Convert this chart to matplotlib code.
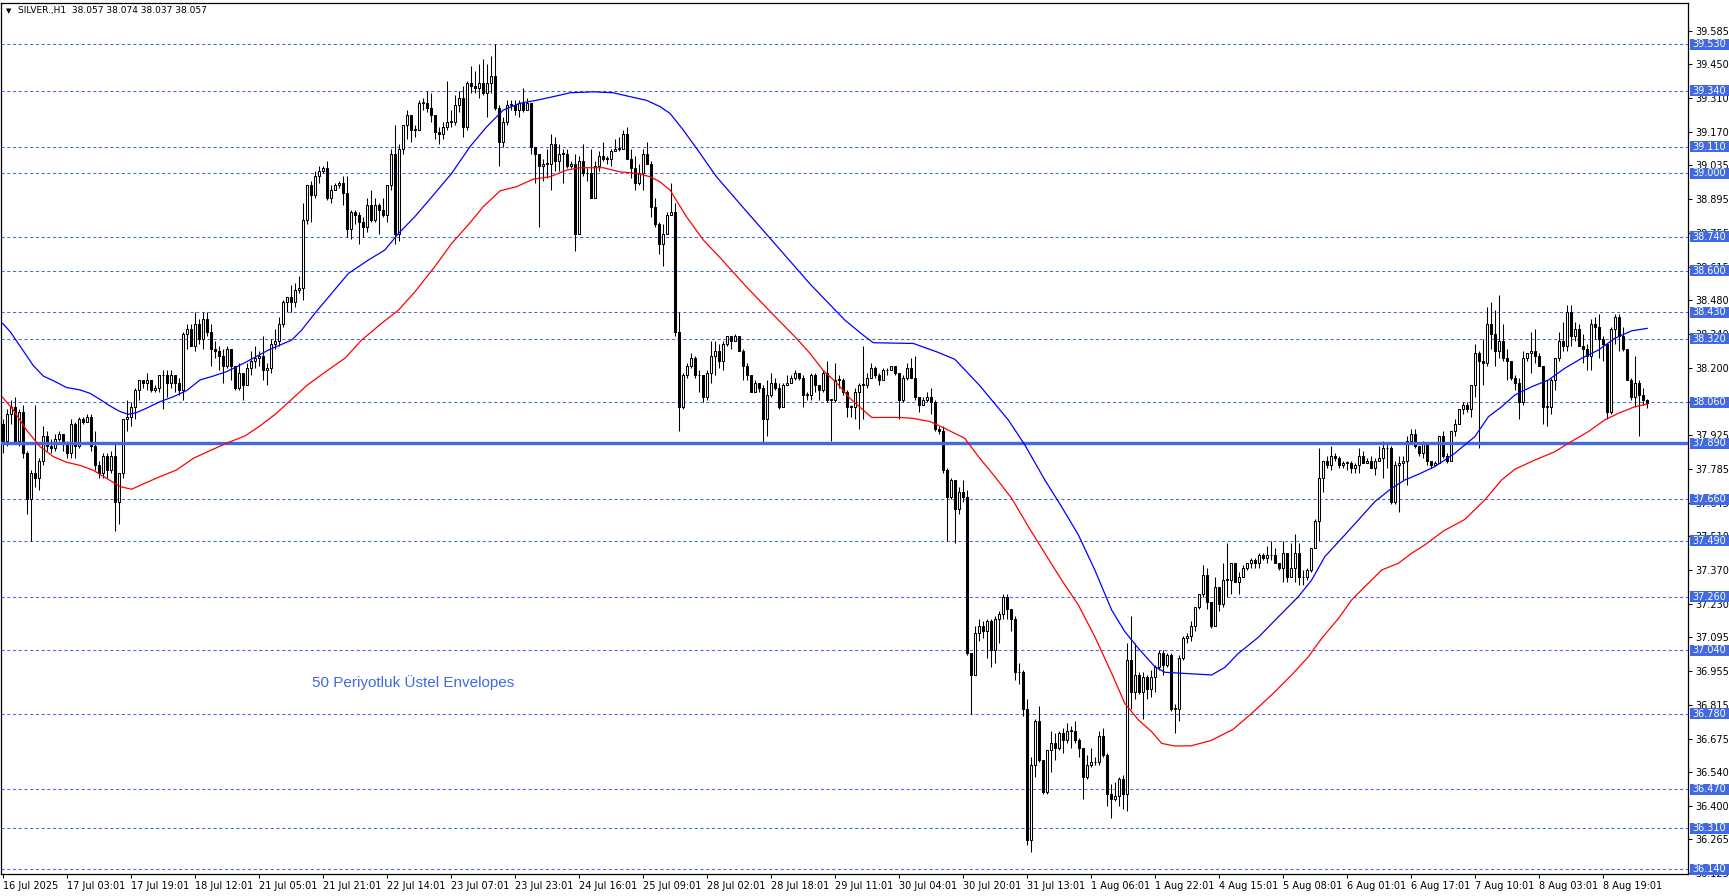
import numpy as np
import matplotlib
matplotlib.use("Agg")
import matplotlib.pyplot as plt
from matplotlib.patches import Rectangle
from matplotlib.transforms import blended_transform_factory

# SILVER H1 candles, 16 Jul - 8 Aug 2025
first_open = 37.97

closes = [
    # 16-18 Jul
    37.90, 38.01, 38.04, 37.90, 38.02, 37.85, 37.66, 37.77, 37.75, 37.82,
    37.92, 37.88, 37.87, 37.91, 37.93, 37.89, 37.85, 37.97, 37.88, 37.99,
    37.98, 38.00, 37.88, 37.80, 37.77, 37.84, 37.78, 37.84, 37.65, 37.77,
    37.99, 38.00, 38.04, 38.11, 38.15, 38.14, 38.15, 38.11, 38.12, 38.17,
    38.17, 38.14, 38.17, 38.14, 38.11, 38.34, 38.36, 38.29, 38.38, 38.32,
    38.40, 38.35, 38.28, 38.27, 38.25, 38.21, 38.28, 38.21, 38.12, 38.18,
    38.13,
    # 21-23 Jul
    38.20, 38.23, 38.24, 38.25, 38.19, 38.20, 38.30, 38.31, 38.38, 38.47,
    38.49, 38.47, 38.52, 38.53, 38.81, 38.95, 38.91, 38.99, 39.01, 39.02,
    38.90, 38.93, 38.95, 38.96, 38.92, 38.77, 38.84, 38.83, 38.80, 38.78,
    38.87, 38.81, 38.87, 38.85, 38.83, 38.95, 39.08, 38.75, 39.10, 39.20,
    39.24, 39.18, 39.18, 39.29, 39.29, 39.27, 39.24, 39.17, 39.16, 39.19,
    39.21, 39.21, 39.28, 39.31, 39.19, 39.37,
    # 23-28 Jul
    39.36, 39.35, 39.37, 39.33, 39.37, 39.40, 39.27, 39.13, 39.21, 39.28,
    39.28, 39.26, 39.29, 39.26, 39.29, 39.11, 39.08, 39.03, 39.04, 39.04,
    39.12, 39.05, 39.08, 39.08, 39.03, 39.04, 38.75, 39.05, 39.00, 39.00,
    38.90, 39.03, 39.07, 39.06, 39.06, 39.09, 39.10, 39.10, 39.16, 39.06,
    39.02, 38.96, 39.00, 39.08, 39.04, 38.86, 38.79, 38.71, 38.75, 38.83,
    38.84, 38.35, 38.04, 38.17, 38.21, 38.24, 38.17, 38.17, 38.08, 38.18,
    # 28-30 Jul
    38.25, 38.27, 38.23, 38.30, 38.33, 38.31, 38.33, 38.27, 38.21, 38.17,
    38.10, 38.14, 38.12, 37.99, 38.09, 38.14, 38.12, 38.04, 38.13, 38.14,
    38.16, 38.18, 38.16, 38.09, 38.09, 38.17, 38.13, 38.11, 38.18, 38.07,
    38.07, 38.15, 38.15, 38.10, 38.04, 38.04, 38.10, 38.13, 38.13, 38.16,
    38.20, 38.17, 38.15, 38.19, 38.19, 38.21, 38.18, 38.07, 38.16, 38.20,
    38.16, 38.08, 38.05, 38.07, 38.08, 38.06, 37.95, 37.94, 37.78,
    # 30 Jul - 1 Aug
    37.67, 37.74, 37.62, 37.69, 37.67, 37.03, 36.94, 37.11, 37.14, 37.12,
    37.16, 37.04, 37.17, 37.19, 37.26, 37.21, 37.17, 36.95, 36.95, 36.80,
    36.26, 36.57, 36.75, 36.59, 36.46, 36.63, 36.66, 36.64, 36.70, 36.67,
    36.71, 36.71, 36.67, 36.64, 36.52, 36.57, 36.58, 36.58, 36.69, 36.61,
    36.45, 36.43, 36.44, 36.51, 36.45, 37.00, 36.87, 36.94, 36.87, 36.93,
    36.88, 36.93, 36.97, 37.03, 36.98, 37.02, 36.80, 36.80,
    # 1-6 Aug
    37.01, 37.09, 37.10, 37.14, 37.22, 37.27, 37.35, 37.24, 37.14, 37.30,
    37.23, 37.33, 37.33, 37.40, 37.32, 37.34, 37.38, 37.40, 37.41, 37.40,
    37.43, 37.42, 37.43, 37.43, 37.40, 37.38, 37.44, 37.34, 37.38, 37.44,
    37.34, 37.34, 37.37, 37.46, 37.57, 37.75, 37.82, 37.80, 37.84, 37.83,
    37.80, 37.81, 37.81, 37.79, 37.80, 37.84, 37.81, 37.82, 37.79, 37.82,
    37.83, 37.87, 37.87, 37.65, 37.80, 37.81, 37.82, 37.90, 37.93, 37.88,
    37.85, 37.89,
    # 6-8 Aug
    37.82, 37.80, 37.81, 37.92, 37.84, 37.82, 37.94, 37.97, 38.03, 38.05,
    38.03, 38.13, 38.26, 38.23, 38.22, 38.38, 38.34, 38.27, 38.31, 38.24,
    38.23, 38.16, 38.14, 38.06, 38.24, 38.26, 38.27, 38.25, 38.21, 38.04,
    38.04, 38.15, 38.24, 38.31, 38.29, 38.43, 38.33, 38.36, 38.29, 38.28,
    38.25, 38.38, 38.37, 38.32, 38.30, 38.02, 38.36, 38.41, 38.33, 38.28,
    38.15, 38.08, 38.14, 38.09, 38.07, 38.057,
]

highs = [
    37.99, 38.03, 38.07, 38.08, 38.03, 38.05, 37.86, 37.78, 38.05, 37.83,
    37.96, 37.94, 37.91, 37.93, 37.94, 37.93, 37.90, 37.99, 37.98, 38.00,
    38.00, 38.01, 38.01, 37.94, 37.82, 37.85, 37.85, 37.86, 37.89, 37.77,
    37.99, 38.07, 38.06, 38.12, 38.15, 38.15, 38.18, 38.15, 38.13, 38.17,
    38.19, 38.19, 38.19, 38.17, 38.16, 38.35, 38.38, 38.38, 38.43, 38.40,
    38.43, 38.43, 38.38, 38.31, 38.29, 38.28, 38.29, 38.28, 38.21, 38.22,
    38.18,
    38.22, 38.27, 38.29, 38.27, 38.33, 38.22, 38.32, 38.36, 38.41, 38.48,
    38.49, 38.54, 38.55, 38.58, 38.88, 38.95, 38.97, 39.01, 39.03, 39.03,
    39.05, 38.95, 38.96, 38.97, 38.99, 38.99, 38.85, 38.85, 38.84, 38.82,
    38.90, 38.93, 38.90, 38.88, 38.90, 38.95, 39.10, 39.20, 39.12, 39.20,
    39.26, 39.24, 39.20, 39.30, 39.31, 39.34, 39.33, 39.24, 39.19, 39.21,
    39.38, 39.26, 39.32, 39.34, 39.36, 39.38,
    39.44, 39.42, 39.45, 39.47, 39.45, 39.48, 39.53, 39.28, 39.23, 39.30,
    39.30, 39.30, 39.30, 39.35, 39.31, 39.29, 39.11, 39.08, 39.06, 39.10,
    39.16, 39.15, 39.12, 39.10, 39.10, 39.05, 39.08, 39.07, 39.12, 39.02,
    39.10, 39.05, 39.09, 39.13, 39.07, 39.10, 39.14, 39.15, 39.18, 39.19,
    39.10, 39.07, 39.04, 39.10, 39.13, 39.05, 38.90, 38.80, 38.79, 38.84,
    38.96, 38.88, 38.43, 38.18, 38.22, 38.26, 38.25, 38.19, 38.17, 38.19,
    38.31, 38.31, 38.30, 38.31, 38.33, 38.33, 38.34, 38.33, 38.28, 38.22,
    38.17, 38.15, 38.14, 38.13, 38.15, 38.18, 38.16, 38.14, 38.14, 38.17,
    38.17, 38.19, 38.18, 38.17, 38.10, 38.18, 38.18, 38.13, 38.19, 38.23,
    38.07, 38.22, 38.17, 38.16, 38.11, 38.05, 38.12, 38.14, 38.29, 38.18,
    38.22, 38.21, 38.18, 38.20, 38.20, 38.21, 38.21, 38.17, 38.17, 38.22,
    38.24, 38.25, 38.08, 38.08, 38.10, 38.12, 38.07, 37.96, 37.96,
    37.79, 37.75, 37.74, 37.71, 37.74, 37.70, 37.03, 37.14, 37.17, 37.16,
    37.17, 37.17, 37.18, 37.20, 37.27, 37.27, 37.21, 37.18, 36.99, 36.96,
    36.84, 36.60, 36.76, 36.81, 36.59, 36.63, 36.71, 36.70, 36.71, 36.72,
    36.74, 36.73, 36.75, 36.68, 36.64, 36.61, 36.64, 36.60, 36.71, 36.72,
    36.62, 36.49, 36.50, 36.52, 36.53, 37.07, 37.18, 37.07, 36.95, 36.95,
    36.94, 36.96, 36.98, 37.04, 37.04, 37.03, 37.03, 36.82,
    37.02, 37.10, 37.11, 37.16, 37.22, 37.27, 37.39, 37.38, 37.24, 37.34,
    37.30, 37.40, 37.48, 37.40, 37.40, 37.36, 37.39, 37.40, 37.42, 37.42,
    37.44, 37.44, 37.47, 37.49, 37.46, 37.40, 37.49, 37.44, 37.48, 37.52,
    37.48, 37.37, 37.38, 37.46, 37.58, 37.87, 37.82, 37.84, 37.88, 37.85,
    37.84, 37.82, 37.82, 37.82, 37.81, 37.87, 37.86, 37.83, 37.84, 37.83,
    37.88, 37.90, 37.89, 37.88, 37.82, 37.84, 37.84, 37.92, 37.95, 37.95,
    37.88, 37.90,
    37.89, 37.82, 37.82, 37.92, 37.94, 37.85, 37.94, 37.99, 38.03, 38.06,
    38.06, 38.13, 38.30, 38.27, 38.32, 38.45, 38.47, 38.44, 38.50, 38.38,
    38.28, 38.23, 38.17, 38.16, 38.27, 38.26, 38.35, 38.36, 38.26, 38.21,
    38.15, 38.16, 38.24, 38.35, 38.39, 38.46, 38.46, 38.39, 38.38, 38.34,
    38.30, 38.40, 38.41, 38.42, 38.33, 38.26, 38.37, 38.42, 38.42, 38.37,
    38.28, 38.16, 38.25, 38.15, 38.12, 38.074,
]

lows = [
    37.85, 37.88, 37.97, 37.89, 37.88, 37.83, 37.60, 37.49, 37.71, 37.70,
    37.80, 37.86, 37.85, 37.86, 37.90, 37.86, 37.83, 37.83, 37.83, 37.87,
    37.97, 37.98, 37.86, 37.78, 37.75, 37.75, 37.75, 37.77, 37.53, 37.56,
    37.75, 37.94, 37.96, 37.99, 38.07, 38.12, 38.11, 38.10, 38.10, 38.10,
    38.03, 38.08, 38.12, 38.10, 38.09, 38.07, 38.28, 38.29, 38.27, 38.30,
    38.28, 38.33, 38.21, 38.24, 38.19, 38.14, 38.20, 38.15, 38.11, 38.11,
    38.07,
    38.14, 38.17, 38.20, 38.21, 38.15, 38.13, 38.18, 38.28, 38.29, 38.37,
    38.43, 38.43, 38.45, 38.51, 38.48, 38.79, 38.80, 38.90, 38.96, 39.00,
    38.89, 38.88, 38.93, 38.94, 38.87, 38.74, 38.73, 38.79, 38.71, 38.74,
    38.76, 38.80, 38.80, 38.75, 38.82, 38.80, 38.93, 38.71, 38.72, 39.08,
    39.14, 39.13, 39.15, 39.18, 39.26, 39.25, 39.21, 39.14, 39.12, 39.14,
    39.18, 39.19, 39.20, 39.25, 39.15, 39.18,
    39.33, 39.33, 39.31, 39.32, 39.23, 39.33, 39.26, 39.03, 39.11, 39.20,
    39.26, 39.24, 39.23, 39.25, 39.26, 39.08, 38.96, 38.78, 38.97, 38.98,
    38.93, 39.01, 39.01, 38.96, 39.02, 39.02, 38.68, 38.75, 38.99, 38.97,
    38.90, 38.90, 39.01, 39.05, 39.04, 39.03, 39.09, 39.09, 39.10, 39.06,
    38.98, 38.93, 38.95, 38.93, 39.04, 38.82, 38.78, 38.67, 38.62, 38.76,
    38.83, 38.33, 37.94, 38.03, 38.16, 38.20, 38.16, 38.10, 38.06, 38.07,
    38.14, 38.17, 38.20, 38.19, 38.29, 38.28, 38.31, 38.27, 38.15, 38.15,
    38.10, 38.10, 38.10, 37.89, 37.92, 38.08, 38.11, 38.03, 38.04, 38.13,
    38.14, 38.15, 38.15, 38.04, 38.07, 38.07, 38.10, 38.07, 38.10, 38.06,
    37.90, 38.06, 38.12, 38.09, 38.00, 38.00, 37.99, 37.95, 37.99, 38.12,
    38.16, 38.16, 38.13, 38.15, 38.17, 38.19, 38.17, 37.99, 38.06, 38.15,
    38.16, 38.07, 38.02, 38.05, 38.06, 38.01, 37.94, 37.93, 37.77,
    37.49, 37.66, 37.48, 37.60, 37.65, 37.02, 36.78, 36.94, 37.08, 37.09,
    37.01, 36.97, 36.99, 37.07, 37.17, 37.17, 37.12, 36.92, 36.90, 36.77,
    36.24, 36.21, 36.52, 36.58, 36.45, 36.45, 36.54, 36.59, 36.63, 36.62,
    36.66, 36.64, 36.66, 36.60, 36.43, 36.51, 36.56, 36.57, 36.57, 36.60,
    36.40, 36.35, 36.42, 36.40, 36.39, 36.38, 36.80, 36.84, 36.86, 36.76,
    36.84, 36.85, 36.87, 36.96, 36.94, 36.97, 36.79, 36.70,
    36.75, 37.00, 37.07, 37.08, 37.12, 37.21, 37.26, 37.21, 37.13, 37.14,
    37.20, 37.22, 37.26, 37.27, 37.32, 37.27, 37.34, 37.37, 37.38, 37.38,
    37.38, 37.41, 37.40, 37.41, 37.40, 37.37, 37.32, 37.32, 37.34, 37.32,
    37.31, 37.31, 37.33, 37.36, 37.46, 37.49, 37.69, 37.79, 37.78, 37.82,
    37.79, 37.79, 37.78, 37.77, 37.77, 37.77, 37.81, 37.81, 37.79, 37.76,
    37.82, 37.75, 37.79, 37.64, 37.64, 37.61, 37.74, 37.72, 37.90, 37.87,
    37.84, 37.83,
    37.80, 37.79, 37.80, 37.81, 37.83, 37.81, 37.82, 37.92, 37.97, 38.01,
    38.02, 38.00, 38.08, 37.87, 38.13, 38.21, 38.28, 38.21, 38.24, 38.23,
    38.15, 38.15, 38.11, 37.99, 38.05, 38.23, 38.18, 38.22, 38.21, 37.97,
    37.96, 38.01, 38.11, 38.23, 38.27, 38.27, 38.29, 38.31, 38.29, 38.22,
    38.19, 38.19, 38.32, 38.24, 38.23, 37.99, 38.01, 38.30, 38.27, 38.27,
    38.15, 38.07, 38.04, 37.92, 38.05, 38.037,
]

# 50-period exponential envelopes, read at points along the lines (bar index, price)
upper_bar = [-0.2, 1.7, 4.2, 7.5, 10, 12.5, 15.8, 19.2, 21.7, 24.2, 26.7, 29.2, 31.3,
             33.3, 35.8, 39.2, 42.5, 45.8, 49.2, 52.5, 55.8, 60.4, 66.3, 72.1, 74.6,
             77.9, 82.1, 86.3, 91.3, 95.4, 98.8, 102.9, 107.9, 112.1, 116.7, 120.8,
             125, 129.2, 133.3, 137.5, 141.7, 147.5, 152.5, 156.7, 160.8, 164.2, 166.7,
             170, 174.2, 178.3, 186, 194, 202, 210.4, 215, 217.5, 227.5, 233.3, 237.9,
             244, 251.3, 255.4, 260.4, 264.6, 268.8, 272.9, 277.1, 280.4, 283.8, 287.9,
             290.4, 302.1, 305.4, 308.8, 313.8, 318.8, 323.8, 327.1, 330.4, 334.6,
             338.8, 342.9, 347.1, 350.4, 354, 357.9, 362.9, 367.9, 371.3, 374.6, 377.9,
             382.1, 386.3, 390.4, 394.6, 398.8, 402.9, 407.1, 411]
upper_val = [38.384, 38.35, 38.29, 38.21, 38.167, 38.148, 38.12, 38.11, 38.096, 38.071,
             38.044, 38.021, 38.01, 38.017, 38.035, 38.062, 38.082, 38.107, 38.151,
             38.167, 38.185, 38.222, 38.274, 38.315, 38.356, 38.425, 38.507, 38.589,
             38.644, 38.685, 38.753, 38.822, 38.918, 39.0, 39.11, 39.19, 39.26, 39.288,
             39.30, 39.315, 39.331, 39.335, 39.331, 39.315, 39.30, 39.274, 39.246,
             39.178, 39.082, 38.986, 38.84, 38.69, 38.54, 38.397, 38.335, 38.304,
             38.301, 38.267, 38.236, 38.13, 37.986, 37.884, 37.74, 37.63, 37.514,
             37.37, 37.206, 37.117, 37.048, 36.973, 36.950, 36.939, 36.97, 37.028,
             37.094, 37.178, 37.261, 37.329, 37.425, 37.50, 37.576, 37.651, 37.706,
             37.74, 37.765, 37.795, 37.85, 37.918, 38.0, 38.041, 38.089, 38.123,
             38.151, 38.199, 38.24, 38.274, 38.322, 38.353, 38.363]
lower_bar = [-0.2, 2.5, 5.8, 9.2, 12.5, 15.8, 19.2, 22.5, 25.8, 29.2, 32.1, 35, 39.2,
             43.3, 47.5, 50.8, 55.8, 60.4, 64, 68, 72, 76, 81.2, 85.4, 89.6, 94.6, 98.8,
             102.9, 107.9, 112.1, 116.7, 120, 124.2, 128.3, 132.5, 136.7, 140.8, 144.2,
             150, 154.2, 158.3, 161.7, 164.2, 166.7, 170.8, 175, 179, 186, 193.8, 198.3,
             201.7, 205, 208.3, 211.7, 215, 217.1, 224.2, 227.5, 231.7, 235.4, 240.4,
             243.8, 247.9, 252.1, 256.3, 260.4, 264.6, 268.8, 272.9, 277.1, 280.4,
             283.8, 287.1, 289.6, 292.9, 297, 302, 307.5, 312.1, 317.1, 322.1, 326.3,
             329.6, 333.8, 337.1, 340.4, 344.6, 348.8, 352.1, 355.4, 360, 365.4, 370.4,
             374.6, 377.9, 382.9, 387.9, 391.3, 396.3, 400.4, 403.8, 407.9, 411]
lower_val = [38.08, 38.028, 37.945, 37.877, 37.836, 37.813, 37.80, 37.78, 37.747, 37.713,
             37.702, 37.724, 37.754, 37.781, 37.829, 37.854, 37.891, 37.921, 37.96, 38.01,
             38.07, 38.13, 38.192, 38.24, 38.315, 38.384, 38.438, 38.513, 38.617, 38.712,
             38.797, 38.863, 38.928, 38.945, 38.976, 38.986, 39.013, 39.023, 39.023,
             39.006, 39.0, 38.986, 38.965, 38.931, 38.822, 38.726, 38.657, 38.53, 38.397,
             38.322, 38.26, 38.19, 38.14, 38.075, 38.027, 37.997, 37.997, 37.993, 37.98,
             37.952, 37.911, 37.836, 37.754, 37.665, 37.548, 37.439, 37.329, 37.226,
             37.096, 36.946, 36.822, 36.754, 36.706, 36.658, 36.647, 36.648, 36.67,
             36.716, 36.781, 36.857, 36.939, 37.014, 37.089, 37.171, 37.247, 37.302,
             37.37, 37.398, 37.439, 37.473, 37.53, 37.578, 37.658, 37.74, 37.784,
             37.822, 37.856, 37.891, 37.939, 37.987, 38.014, 38.041, 38.052]

levels = [39.530, 39.340, 39.110, 39.000, 38.740, 38.600, 38.430, 38.320, 38.060,
          37.660, 37.490, 37.260, 37.040, 36.780, 36.470, 36.310, 36.140]
support = 37.890

price_ticks = [39.585, 39.450, 39.310, 39.170, 39.035, 38.895, 38.755, 38.615, 38.480,
               38.340, 38.200, 38.060, 37.925, 37.785, 37.645, 37.510, 37.370, 37.230,
               37.095, 36.955, 36.815, 36.675, 36.540, 36.400, 36.265, 36.125]

time_labels = ["16 Jul 2025", "17 Jul 03:01", "17 Jul 19:01", "18 Jul 12:01", "21 Jul 05:01",
               "21 Jul 21:01", "22 Jul 14:01", "23 Jul 07:01", "23 Jul 23:01", "24 Jul 16:01",
               "25 Jul 09:01", "28 Jul 02:01", "28 Jul 18:01", "29 Jul 11:01", "30 Jul 04:01",
               "30 Jul 20:01", "31 Jul 13:01", "1 Aug 06:01", "1 Aug 22:01", "4 Aug 15:01",
               "5 Aug 08:01", "6 Aug 01:01", "6 Aug 17:01", "7 Aug 10:01", "8 Aug 03:01",
               "8 Aug 19:01"]
time_bars = [0] + [16 + 16 * k for k in range(len(time_labels) - 1)]

LINE_BLUE = "#4169e1"

W, H = 1729, 896
fig = plt.figure(figsize=(W / 100, H / 100), dpi=100)
fig.patch.set_facecolor("white")
ax = fig.add_axes([1 / W, (H - 874.3) / H, 1687 / W, 871.6 / H])
ax.set_facecolor("white")

c = np.array(closes)
o = np.array([first_open] + closes[:-1])
hi = np.array(highs)
lo = np.array(lows)
bars = np.arange(len(c))

# wicks, then bodies on top
ax.vlines(bars, lo, hi, color="black", lw=0.75, zorder=3)
bull = c >= o
body_bottom = np.minimum(o, c)
body_height = np.maximum(np.abs(c - o), 0.003)
ax.bar(bars[bull], body_height[bull], bottom=body_bottom[bull], width=0.6,
       color="white", edgecolor="black", linewidth=0.75, zorder=4)
ax.bar(bars[~bull], body_height[~bull], bottom=body_bottom[~bull], width=0.6,
       color="black", edgecolor="black", linewidth=0.75, zorder=4)

# envelopes
ax.plot(upper_bar, upper_val, color="#0000ff", lw=0.9, zorder=6)
ax.plot(lower_bar, lower_val, color="#ff0000", lw=0.9, zorder=6)

# horizontal levels
for lv in levels:
    ax.axhline(lv, color=LINE_BLUE, lw=0.75, ls=(0, (3, 2.5)), zorder=1)
ax.axhline(support, color=LINE_BLUE, lw=2.4, zorder=5)

ax.text(77.2, 36.908, "50 Periyotluk Üstel Envelopes", color=LINE_BLUE,
        fontsize=11, family="Liberation Sans", ha="left", va="center", zorder=7)

ax.set_xlim(-0.575, 421.2)
ax.set_ylim(36.120, 39.701)

# right price scale
ax.yaxis.tick_right()
ax.set_yticks(price_ticks)
ax.set_yticklabels([f"{v:.3f}" for v in price_ticks])
ax.tick_params(axis="y", direction="out", length=3, width=0.75, pad=2, labelsize=7)

ax.set_xticks(time_bars)
ax.set_xticklabels(time_labels)
ax.tick_params(axis="x", direction="out", length=3, width=0.75, pad=1.5, labelsize=7)
for lab in ax.get_xticklabels():
    lab.set_horizontalalignment("left")

for sp in ax.spines.values():
    sp.set_color("black")
    sp.set_linewidth(0.9)

# blue price tags on the scale
tag_tr = blended_transform_factory(fig.transFigure, ax.transData)
half = 5.5 / 243.4
for lv in levels + [support]:
    ax.add_patch(Rectangle((1690 / W, lv - half), 39 / W, 2 * half, transform=tag_tr,
                           facecolor=LINE_BLUE, edgecolor="none", clip_on=False, zorder=10))
    ax.text(1709.5 / W, lv, f"{lv:.3f}", transform=tag_tr, color="white", fontsize=7,
            ha="center", va="center", clip_on=False, zorder=11)

# header
fig.text(9 / W, 1 - 11 / H, "▼", fontsize=5, ha="center", va="center")
fig.text(18 / W, 1 - 11 / H, "SILVER.,H1  38.057 38.074 38.037 38.057", fontsize=6.5,
         ha="left", va="center")

fig.savefig("out.png", dpi=100)
